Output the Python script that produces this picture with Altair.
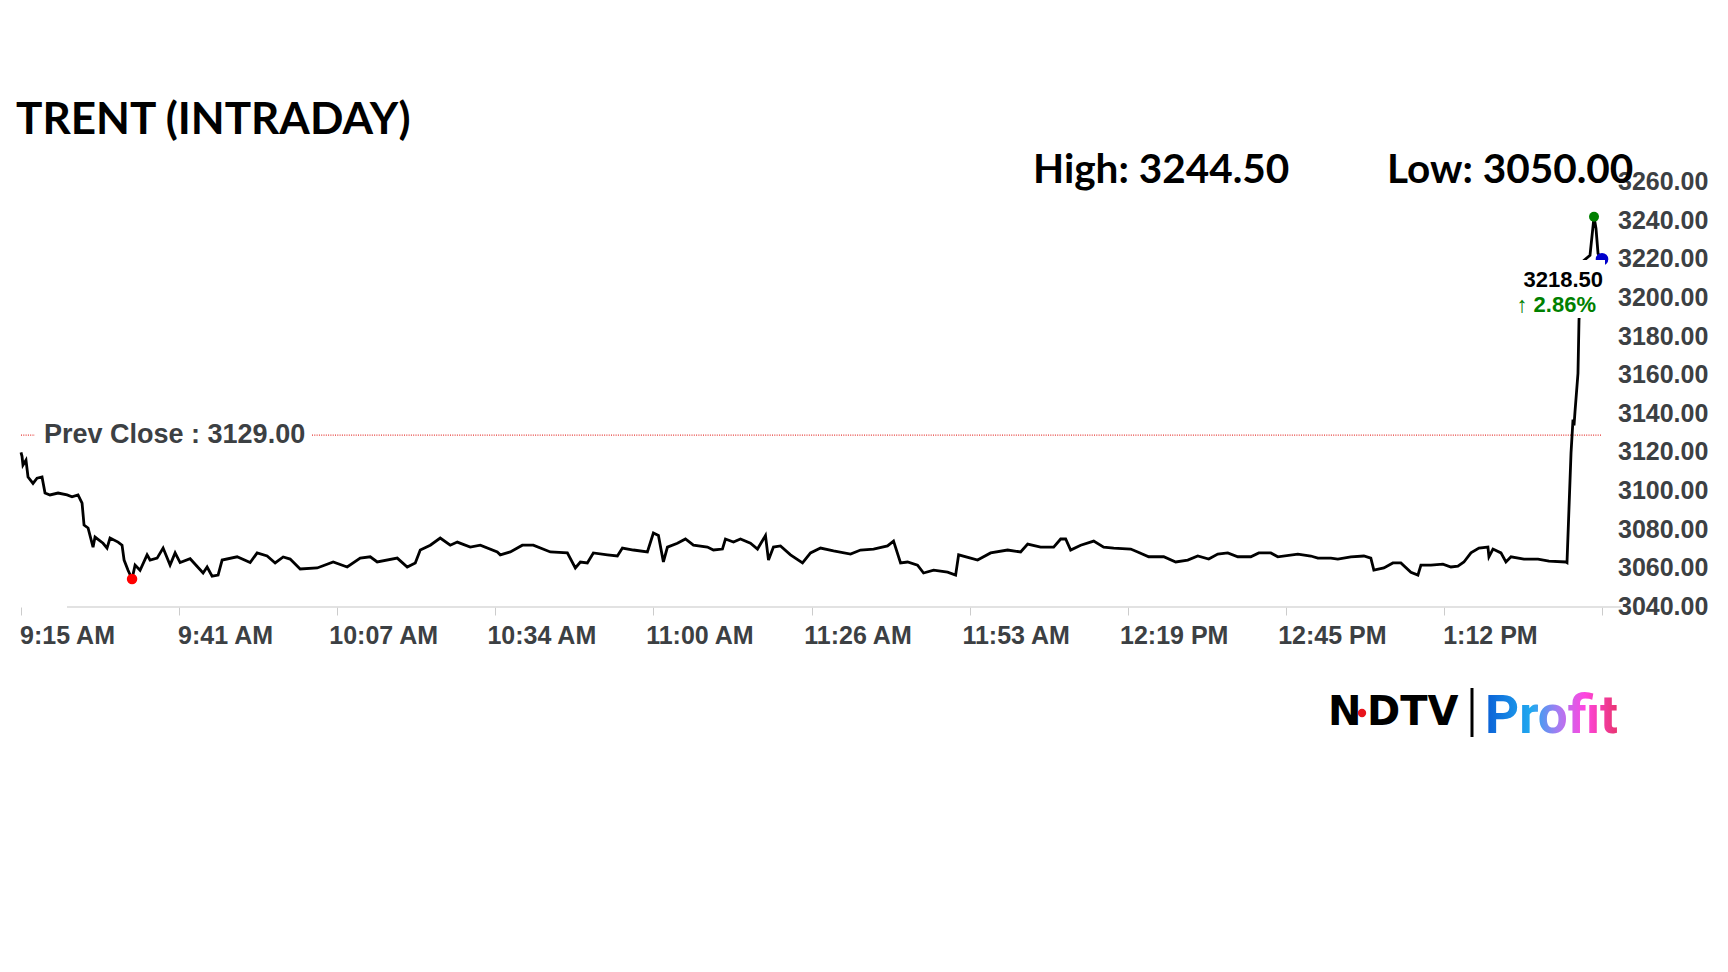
import altair as alt
import pandas as pd

# ---- data ----
# minutes after 9:15 AM
minutes = [0, 0.17, 0.33, 0.83, 1.17, 2.0, 2.67, 3.5, 4.0, 4.83, 6.17, 7.67, 8.5, 9.5, 10.17, 10.5,
           11.17, 12.0, 12.33, 13.67, 14.33, 14.83, 16.17, 16.83, 17.17, 17.83, 18.5, 19.0, 19.83,
           21.0, 21.5, 22.67, 23.67, 24.83, 25.67, 26.5, 28.17, 30.33, 31.0, 31.83, 32.83, 33.5,
           36.0, 38.17, 39.33, 41.0, 42.33, 43.67, 44.83, 46.5, 49.33, 52.0, 54.33, 56.5, 58.17,
           59.33, 62.67, 64.33, 65.67, 66.5, 68.17, 69.83, 71.5, 72.67, 74.83, 76.5, 79.33, 79.83,
           81.5, 83.5, 85.33, 88.17, 91.0, 92.33, 93.17, 94.33, 95.33, 97.67, 99.33, 100.17, 102.0,
           104.33, 105.33, 106.17, 107.0, 107.67, 109.33, 110.67, 112.0, 114.33, 115.33, 116.83,
           117.33, 118.67, 119.83, 121.5, 122.67, 124.0, 124.5, 125.33, 126.5, 128.17, 130.17,
           131.5, 133.17, 135.33, 138.17, 139.83, 142.0, 144.33, 145.33, 146.5, 147.67, 149.33,
           150.33, 152.0, 154.33, 155.67, 156.17, 158.17, 159.33, 161.5, 164.33, 166.5, 167.67,
           169.83, 172.0, 173.17, 174.0, 174.83, 176.5, 178.67, 180.33, 182.0, 184.83, 186.0,
           187.83, 190.33, 192.33, 194.33, 196.0, 197.83, 199.33, 201.0, 202.67, 204.83, 206.17,
           208.17, 209.33, 212.67, 214.83, 216.0, 218.17, 219.33, 221.5, 223.67, 224.83, 225.33,
           227.0, 228.5, 229.83, 231.5, 232.67, 233.17, 234.83, 236.83, 238.17, 239.33, 240.33,
           241.5, 242.83, 244.33, 244.5, 245.17, 246.5, 247.33, 248.17, 250.33, 252.67, 254.5,
           257.33, 257.5, 258.17, 258.5, 258.67, 258.83, 259.33, 259.5, 259.83, 260.17, 261.33,
           262.0, 262.33, 262.67, 263.33]
prices = [3120, 3118, 3113.5, 3116, 3107.3, 3104, 3106.7, 3107.3, 3099, 3098, 3099, 3098, 3097, 3098,
          3093.8, 3082.4, 3080.9, 3071, 3076.2, 3073, 3070.5, 3075.7, 3073.6, 3072, 3064.3, 3059,
          3054.5, 3061.7, 3059, 3067, 3064.3, 3065.3, 3070.5, 3061.7, 3068, 3063, 3065, 3057.6,
          3060.7, 3056, 3056.5, 3064.3, 3066, 3063, 3068, 3066.4, 3062.8, 3065.9, 3064.8, 3059.7,
          3060.2, 3063.3, 3060.7, 3065.3, 3066, 3063.3, 3065.3, 3060.7, 3062.8, 3069.5, 3072,
          3075.7, 3072, 3073.6, 3071, 3072, 3068.5, 3067, 3068.5, 3072, 3072, 3068.5, 3068, 3060.2,
          3063.3, 3062.8, 3068, 3067, 3066.4, 3070.5, 3069.5, 3068.5, 3078.3, 3077, 3063.3, 3071,
          3073, 3075.2, 3072, 3071, 3069.5, 3070, 3075.2, 3073.6, 3075.2, 3073, 3070, 3077, 3064.3,
          3071, 3071.6, 3067, 3062.8, 3068, 3070.5, 3069, 3067.4, 3069.5, 3070, 3071.6, 3074.1,
          3062.8, 3063.3, 3061.7, 3057.6, 3059.1, 3058, 3056.5, 3067, 3065.3, 3064.3, 3068, 3069.5,
          3068.5, 3072.6, 3071, 3071, 3075.2, 3075.2, 3069.5, 3072, 3074.1, 3071, 3070.5, 3070,
          3068.5, 3066, 3066, 3063.3, 3064.3, 3066.4, 3064.8, 3067.4, 3068, 3066, 3066, 3068, 3068,
          3066, 3067.4, 3066.4, 3065.3, 3065.3, 3064.8, 3066, 3066.4, 3065.3, 3059.1, 3060.2,
          3062.8, 3062.8, 3058, 3056.5, 3061.7, 3061.7, 3062.2, 3060.7, 3061.2, 3063.3, 3068,
          3070.5, 3071, 3066, 3070, 3068, 3063.3, 3066, 3064.8, 3064.8, 3063.8, 3063.3, 3063,
          3119.7, 3137, 3134, 3141, 3161, 3188.5, 3205, 3219, 3222, 3242, 3236, 3223, 3220]

tick_minutes = [0, 26.33, 52.67, 79, 105.33, 131.67, 158, 184.33, 210.67, 237, 263.33]
tick_labels = ["9:15 AM", "9:41 AM", "10:07 AM", "10:34 AM", "11:00 AM", "11:26 AM",
               "11:53 AM", "12:19 PM", "12:45 PM", "1:12 PM", ""]
y_ticks = [3040, 3060, 3080, 3100, 3120, 3140, 3160, 3180, 3200, 3220, 3240, 3260]

prev_close = 3129.00
high_text = "High: 3244.50"
low_text = "Low: 3050.00"
last_text = "3218.50"
change_text = "\u2191 2.86%"
title_text = "TRENT (INTRADAY)"

W, H = 1581, 425
AX_FONT = "Liberation Sans"
GREY = "#3c4043"

df = pd.DataFrame({"m": minutes, "p": prices})
lo = df.loc[df["p"].idxmin()]
hi = df.loc[df["p"].idxmax()]
last = df.iloc[-1]
marks_df = pd.DataFrame({"m": [lo["m"], hi["m"], last["m"]],
                         "p": [lo["p"], hi["p"], last["p"]],
                         "c": ["#ff0000", "#008000", "#0000cc"],
                         "s": [110, 100, 160]})
yt_df = pd.DataFrame({"p": y_ticks})

label_js = "[" + ",".join("'" + s + "'" for s in tick_labels) + "]"

x_enc = alt.X("m:Q", title=None,
              scale=alt.Scale(domain=[0, 263.33], nice=False, zero=False),
              axis=alt.Axis(values=tick_minutes,
                            labelExpr=label_js + "[round(datum.value / 26.333)]",
                            domain=False, grid=False, ticks=True, tickColor="#cccccc",
                            tickSize=8, tickWidth=1, labelAlign="center", labelOffset=46,
                            labelPadding=8, labelFont=AX_FONT, labelFontSize=25,
                            labelFontWeight="bold", labelColor=GREY, labelOverlap=False,
                            labelFlush=False, labelBaseline="top"))
y_enc = alt.Y("p:Q", title=None,
              scale=alt.Scale(domain=[3040, 3260], nice=False, zero=False),
              axis=alt.Axis(orient="right", values=y_ticks, domain=False, grid=False,
                            ticks=False, labels=False))

one = pd.DataFrame({"k": [0]})

def txt(text, x, y, size, color="black", font=AX_FONT, align="left", baseline="alphabetic", **kw):
    return alt.Chart(pd.DataFrame({"t": [text]})).mark_text(
        align=align, baseline=baseline, font=font, fontSize=size, fontWeight="bold",
        color=color, **kw).encode(text="t:N", x=alt.value(x), y=alt.value(y))

axis_line = alt.Chart(one).mark_rule(color="#d9d9d9", strokeWidth=1.5).encode(
    x=alt.value(46), x2=alt.value(1600), y=alt.value(H))

prev_rule1 = alt.Chart(one).mark_rule(color="#e53935", strokeWidth=1.3, strokeDash=[1, 1.3]).encode(
    x=alt.value(0), x2=alt.value(14), y=alt.datum(prev_close))
prev_rule2 = alt.Chart(one).mark_rule(color="#e53935", strokeWidth=1.3, strokeDash=[1, 1.3]).encode(
    x=alt.value(291), x2=alt.value(W), y=alt.datum(prev_close))
prev_txt = alt.Chart(pd.DataFrame({"t": ["Prev Close : %.2f" % prev_close]})).mark_text(
    align="left", baseline="middle", font=AX_FONT, fontSize=27, fontWeight="bold", color=GREY
).encode(text="t:N", x=alt.value(23), y=alt.datum(prev_close))

line = alt.Chart(df).mark_line(color="black", strokeWidth=2.8).encode(x=x_enc, y=y_enc)
dots = alt.Chart(marks_df).mark_circle(opacity=1).encode(
    x="m:Q", y="p:Q", color=alt.Color("c:N", scale=None), size=alt.Size("s:Q", scale=None))

y_labels = alt.Chart(yt_df).mark_text(
    align="left", baseline="middle", font=AX_FONT, fontSize=25, fontWeight="bold", color=GREY
).encode(y="p:Q", x=alt.value(W + 16), text=alt.Text("p:Q", format=".2f"))

box = alt.Chart(one).mark_rect(color="white").encode(
    x=alt.value(1494), x2=alt.value(1584), y=alt.value(78), y2=alt.value(136))

last_lbl = txt(last_text, 1582, 105, 22, align="right")
chg_lbl = txt(change_text, 1575, 130, 22, color="#008000", align="right")

title = txt(title_text, -5, -48, 44, font="Lato")
high = txt(high_text, 1012, 1, 40.5, font="Lato")
low = txt(low_text, 1366, 1, 40.5, font="Lato")

# logo
logo_n = txt("N", 1307, 543, 40, font="DejaVu Sans")
logo_dtv = txt("DTV", 1346, 543, 40, font="DejaVu Sans")
logo_dot = alt.Chart(one).mark_circle(color="#e8141c", size=70, opacity=1).encode(
    x=alt.value(1341), y=alt.value(531))
logo_bar = alt.Chart(one).mark_rule(color="black", strokeWidth=3).encode(
    x=alt.value(1451), y=alt.value(506), y2=alt.value(555))
grad = alt.LinearGradient(gradient="linear", x1=0, x2=1, y1=0, y2=0, stops=[
    alt.GradientStop(color="#0a5fd6", offset=0),
    alt.GradientStop(color="#21a9f0", offset=0.35),
    alt.GradientStop(color="#a77cf2", offset=0.55),
    alt.GradientStop(color="#ff45e0", offset=0.75),
    alt.GradientStop(color="#e8346e", offset=1)])
logo_profit = alt.Chart(pd.DataFrame({"t": ["Profit"]})).mark_text(
    align="left", baseline="alphabetic", font="Roboto", fontSize=53, fontWeight="bold",
    fill=grad).encode(text="t:N", x=alt.value(1464), y=alt.value(551))

chart = alt.layer(
    axis_line, prev_rule1, prev_rule2, prev_txt, line, dots, box, last_lbl, chg_lbl, y_labels,
    title, high, low, logo_n, logo_dtv, logo_dot, logo_bar, logo_profit
).properties(
    width=W, height=H,
    autosize=alt.AutoSizeParams(type="none"),
    padding={"left": 13, "top": 174, "right": 110, "bottom": 330},
    background="white"
).configure_view(strokeWidth=0)

chart.save("out.html", embed_options={"renderer": "svg", "actions": False})
